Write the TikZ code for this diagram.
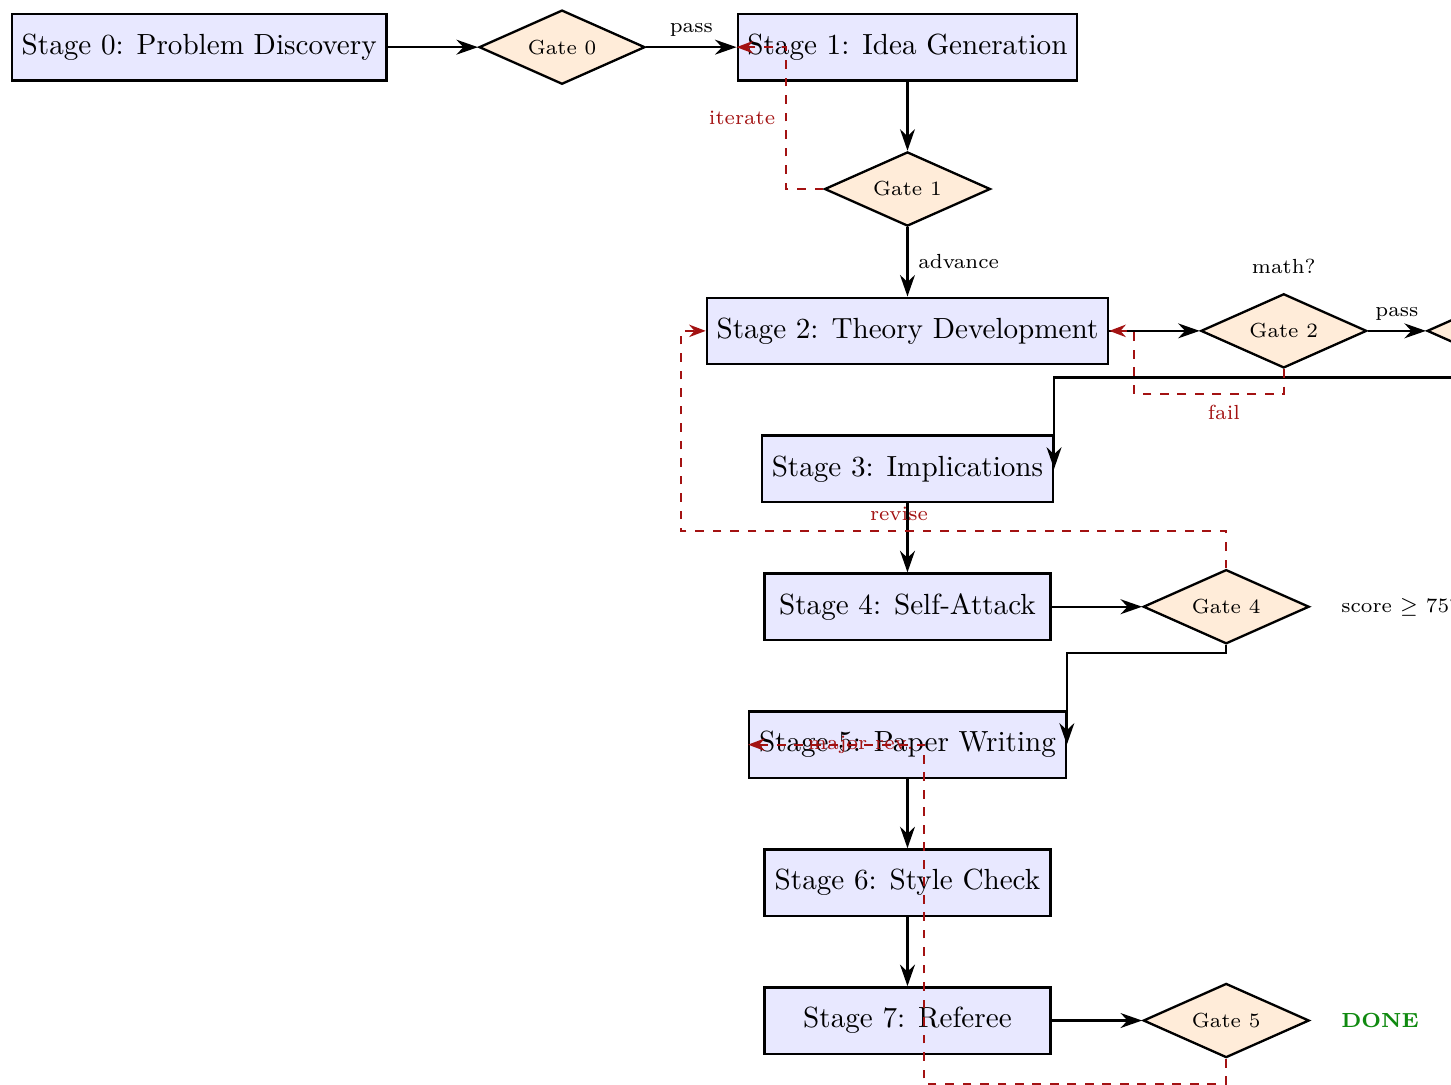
\documentclass[tikz,border=0pt]{standalone}
\usepackage{amsmath,amssymb}
\usepackage{tikz}
\usetikzlibrary{arrows.meta,positioning,shapes.geometric,calc}
\definecolor{stagefill}{HTML}{E8E8FF}
\definecolor{gatefill}{HTML}{FFECD9}
\definecolor{loopred}{HTML}{A31212}
\definecolor{donegreen}{HTML}{108A10}

\begin{document}
\begin{tikzpicture}[
  stage/.style={draw, thick, fill=stagefill, minimum height=8mm,
                minimum width=3.45cm, align=center},
  gate/.style={draw, thick, fill=gatefill, diamond, aspect=2.2,
               minimum width=2cm, minimum height=7.8mm, font=\scriptsize},
  arr/.style={-{Stealth[length=2.6mm,width=1.8mm]}, thick},
  backarr/.style={-{Stealth[length=2mm]}, thick, dashed, color=loopred},
  lbl/.style={font=\scriptsize},
  node distance=8.35mm and 10.9mm
]
% main line of stages and gates
\node[stage] (s0) {Stage 0: Problem Discovery};
\node[gate, right=of s0] (g0) {Gate 0};
\node[stage, right=of g0] (s1) {Stage 1: Idea Generation};
\node[gate, below=of s1] (g1) {Gate 1};
\node[stage, below=of g1] (s2) {Stage 2: Theory Development};
\node[gate, right=of s2] (g2) {Gate 2};
\node[lbl, above=1mm of g2] (mathq) {math?};
\node[gate, right=7mm of g2] (g3) {Gate 3};
\node[stage, below=of s2] (s3) {Stage 3: Implications};
\node[stage, below=of s3] (s4) {Stage 4: Self-Attack};
\node[gate, right=of s4] (g4) {Gate 4};
\node[lbl, right=2.5mm of g4] (score) {score $\geq$ 75?};
\node[stage, below=of s4] (s5) {Stage 5: Paper Writing};
\node[stage, below=of s5] (s6) {Stage 6: Style Check};
\node[stage, below=of s6] (s7) {Stage 7: Referee};
\node[gate, right=of s7] (g5) {Gate 5};
\node[lbl, right=2.5mm of g5, text=donegreen, font=\scriptsize\bfseries] (done) {DONE};

\draw[arr] (s0) -- (g0);
\draw[arr] (g0) -- node[lbl, above] (pass0) {pass} (s1);
\draw[arr] (s1) -- (g1);
\draw[arr] (g1) -- node[lbl, right] (adv) {advance} (s2);
\draw[arr] (s2) -- (g2);
\draw[arr] (g2) -- node[lbl, above] (pass2) {pass} (g3);
\draw[arr] (g3.south) -- ++(0,-0.1) -| (s3.east);
\draw[arr] (s3) -- (s4);
\draw[arr] (s4) -- (g4);
\draw[arr] (g4.south) -- ++(0,-0.1) -| (s5.east);
\draw[arr] (s5) -- (s6);
\draw[arr] (s6) -- (s7);
\draw[arr] (s7) -- (g5);

% feedback loops
\draw[backarr] (g1.west) -- ++(-0.45,0) |- node[lbl, left, pos=0.25] (iter) {iterate} (s1.west);
\draw[backarr] (g2.south) -- ++(0,-0.3) -| node[lbl, below, pos=0.2] (fail) {fail} ([xshift=3mm]s2.east) -- (s2.east);
\draw[backarr] (g4.north) -- ++(0,0.45) -| node[lbl, above, pos=0.3] (rev) {revise} ([xshift=-3mm]s2.west) -- (s2.west);
\draw[backarr] (g5.south) -- ++(0,-0.3) -| ([xshift=2mm]s5.center) -- node[lbl, pos=0.36] (major) {major rev.} (s5.west);

\pgfresetboundingbox
\useasboundingbox ($(s0.north west)+(-3.72pt,4.4pt)$) rectangle ++(497.8pt,-372.2pt);
\end{tikzpicture}
\end{document}
